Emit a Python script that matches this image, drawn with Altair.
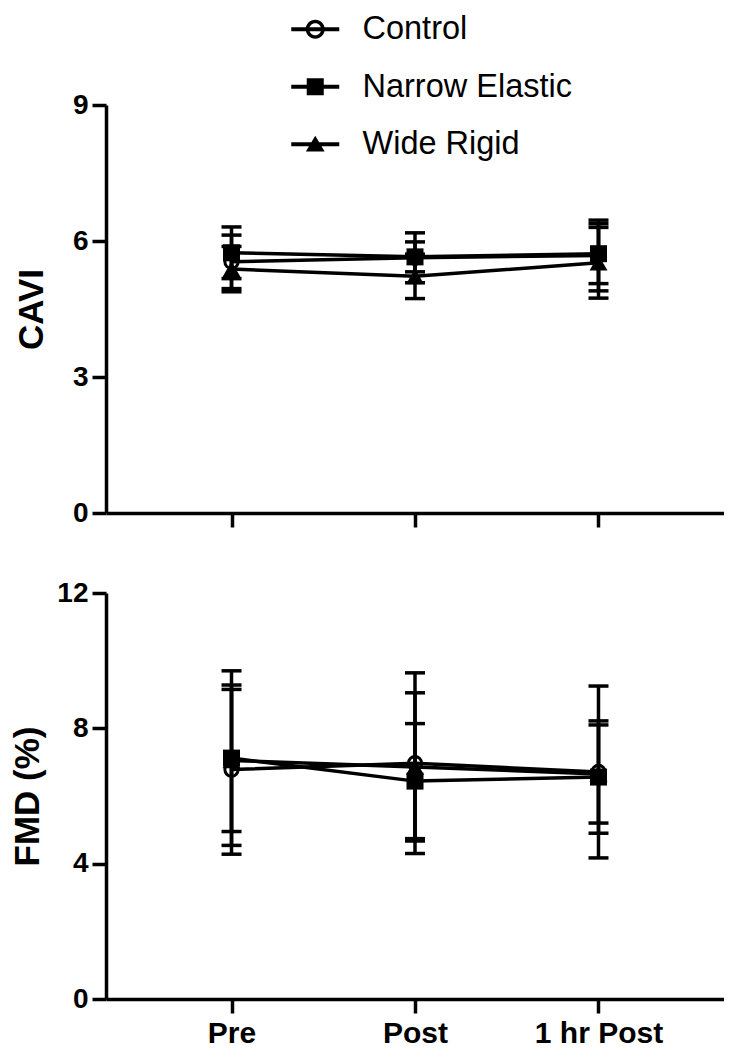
import altair as alt
import pandas as pd

# ---------------- data ----------------
groups = ["Control", "Narrow Elastic", "Wide Rigid"]
times = ["Pre", "Post", "1 hr Post"]

# CAVI (mean, SD)
cavi_control_mean = [5.54, 5.63, 5.68]
cavi_control_sd = [0.59, 0.55, 0.78]
cavi_narrow_mean = [5.74, 5.65, 5.72]
cavi_narrow_sd = [0.57, 0.33, 0.66]
cavi_wide_mean = [5.38, 5.22, 5.52]
cavi_wide_sd = [0.50, 0.49, 0.78]

# FMD % (mean, SD)
fmd_control_mean = [6.78, 6.97, 6.71]
fmd_control_sd = [2.50, 2.67, 2.54]
fmd_narrow_mean = [7.12, 6.44, 6.56]
fmd_narrow_sd = [2.58, 1.70, 1.66]
fmd_wide_mean = [7.05, 6.86, 6.65]
fmd_wide_sd = [2.10, 2.19, 1.45]

cavi_ticks = [0, 3, 6, 9]
fmd_ticks = [0, 4, 8, 12]


def build(means, sds):
    rows = []
    for g, ms, ss in zip(groups, means, sds):
        for i, (t, m, s) in enumerate(zip(times, ms, ss)):
            rows.append({"group": g, "time": t, "idx": i, "mean": m,
                         "lo": m - s, "hi": m + s})
    return pd.DataFrame(rows)


cavi_df = build([cavi_control_mean, cavi_narrow_mean, cavi_wide_mean],
                [cavi_control_sd, cavi_narrow_sd, cavi_wide_sd])
fmd_df = build([fmd_control_mean, fmd_narrow_mean, fmd_wide_mean],
               [fmd_control_sd, fmd_narrow_sd, fmd_wide_sd])

# ---------------- legend symbols (line through marker) ----------------
def f(v):
    return f"{v:.3f}"


def circ(r, rev=False):
    k = 0.5523 * r
    if not rev:
        return (f"M{f(r)},0C{f(r)},{f(k)} {f(k)},{f(r)} 0,{f(r)}"
                f"C{f(-k)},{f(r)} {f(-r)},{f(k)} {f(-r)},0"
                f"C{f(-r)},{f(-k)} {f(-k)},{f(-r)} 0,{f(-r)}"
                f"C{f(k)},{f(-r)} {f(r)},{f(-k)} {f(r)},0Z")
    return (f"M{f(r)},0C{f(r)},{f(-k)} {f(k)},{f(-r)} 0,{f(-r)}"
            f"C{f(-k)},{f(-r)} {f(-r)},{f(-k)} {f(-r)},0"
            f"C{f(-r)},{f(k)} {f(-k)},{f(r)} 0,{f(r)}"
            f"C{f(k)},{f(r)} {f(r)},{f(k)} {f(r)},0Z")


# path units: 12 px per unit (symbol size 576)
LINE = "M-2,-0.17H2V0.17H-2Z"
sym_control = LINE + circ(0.79) + circ(0.50, rev=True)
sym_square = LINE + "M-0.71,-0.71H0.71V0.71H-0.71Z"
sym_tri = LINE + "M0,-0.70L0.78,0.60H-0.78Z"
legend_paths = [sym_control, sym_square, sym_tri]

FONT = "Liberation Sans"
W = 618
XPAD = 0.684
LW = 3.5


def panel(df, ymax, yticks, ytitle, title_pad, show_xlabels, height, with_legend):
    base = alt.Chart(df)
    x = alt.X("time:N", sort=times, title=None,
              scale=alt.Scale(type="point", padding=XPAD, domain=times),
              axis=alt.Axis(labels=show_xlabels, labelAngle=0, labelFontSize=30,
                            labelFont=FONT, labelFontWeight="bold", labelColor="black",
                            labelPadding=5, tickSize=14, tickWidth=LW, tickColor="black",
                            domainColor="black", domainWidth=LW, grid=False))
    yscale = alt.Scale(domain=[0, ymax], nice=False)
    yaxis = alt.Axis(values=yticks, labelFontSize=28, labelFont=FONT,
                     labelFontWeight="bold", labelColor="black", labelPadding=4,
                     tickSize=14, tickWidth=LW, tickColor="black",
                     domainColor="black", domainWidth=LW, grid=False,
                     titleFont=FONT, titleFontSize=35, titleFontWeight="bold",
                     titleColor="black", titlePadding=title_pad)

    def yc(field):
        return alt.Y(field, title=ytitle, scale=yscale, axis=yaxis)

    lines = base.mark_line(color="black", strokeWidth=LW).encode(
        x=x, y=yc("mean:Q"), detail="group:N", order="idx:Q")
    bars = base.mark_rule(color="black", strokeWidth=LW).encode(
        x=x, y=yc("lo:Q"), y2="hi:Q")
    cap_lo = base.mark_tick(color="black", thickness=LW, size=20,
                            orient="horizontal", opacity=1).encode(x=x, y=yc("lo:Q"))
    cap_hi = base.mark_tick(color="black", thickness=LW, size=20,
                            orient="horizontal", opacity=1).encode(x=x, y=yc("hi:Q"))
    pt_sq = base.transform_filter(alt.datum.group == "Narrow Elastic").mark_point(
        shape="square", filled=True, color="black", size=289, opacity=1).encode(
        x=x, y=yc("mean:Q"))
    pt_tri = base.transform_filter(alt.datum.group == "Wide Rigid").mark_point(
        shape="triangle-up", filled=True, color="black", size=324, opacity=1).encode(
        x=x, y=yc("mean:Q"))
    pt_circ = base.transform_filter(alt.datum.group == "Control").mark_point(
        shape="circle", filled=False, color="black", strokeWidth=3, size=177,
        opacity=1).encode(x=x, y=yc("mean:Q"))

    layers = [lines, bars, cap_lo, cap_hi, pt_tri, pt_sq, pt_circ]
    if with_legend:
        leg = base.mark_point(filled=True, color="black", opacity=0, size=576,
                              strokeWidth=0).encode(
            x=x, y=yc("mean:Q"),
            shape=alt.Shape("group:N",
                            scale=alt.Scale(domain=groups, range=legend_paths),
                            legend=alt.Legend(
                                title=None, orient="none", legendX=193, legendY=-92,
                                direction="vertical", padding=0, offset=0,
                                labelFont=FONT, labelFontSize=32.5, labelColor="black",
                                labelFontWeight="normal", labelOffset=31,
                                labelLimit=400, rowPadding=24.5, symbolSize=576,
                                symbolFillColor="black", symbolStrokeWidth=0,
                                symbolOpacity=1)))
        layers.append(leg)
    return alt.layer(*layers).properties(width=W, height=height)


top = panel(cavi_df, 9, cavi_ticks, "CAVI", 23, False, 408, True)
bottom = panel(fmd_df, 12, fmd_ticks, "FMD (%)", 11, True, 406, False)

chart = alt.vconcat(top, bottom, spacing=80, bounds="flush").properties(
    padding={"left": 2, "top": 5, "right": 0, "bottom": 0}, background="white"
).configure_view(stroke=None)

chart.save("out.html", embed_options={"renderer": "svg", "actions": False})
